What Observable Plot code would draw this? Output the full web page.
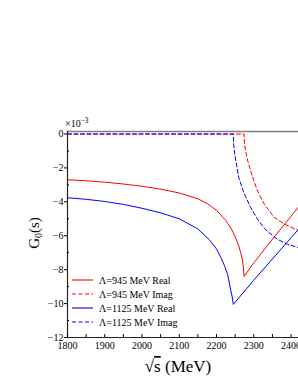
<!DOCTYPE html>
<html><head><meta charset="utf-8">
<script src="https://cdn.jsdelivr.net/npm/d3@7"></script>
<script src="https://cdn.jsdelivr.net/npm/@observablehq/plot@0.6"></script>
<style>body{margin:0;background:#fff}svg{display:block}</style>
</head><body><div id="chart"></div>
<script>
// Data (values in units of 1e-3)
const real945 = [[1800,-2.70],[1850,-2.76],[1900,-2.84],[1950,-2.95],[2000,-3.08],[2050,-3.25],[2100,-3.48],[2150,-3.82],[2175,-4.10],[2200,-4.50],[2225,-5.10],[2240,-5.60],[2250,-6.05],[2258,-6.50],[2265,-7.00],[2270,-7.50],[2272,-7.85],[2274,-8.40],[2300,-7.60],[2350,-6.20],[2400,-4.85],[2420,-4.30]];
const imag945 = [[1800,0],[2274,0],[2275,-0.5],[2278,-1.0],[2284,-1.6],[2292,-2.2],[2300,-2.75],[2309,-3.3],[2327,-4.1],[2354,-4.9],[2381,-5.3],[2400,-5.5],[2420,-5.7]];
const real1125 = [[1800,-3.76],[1850,-3.85],[1900,-3.98],[1950,-4.15],[2000,-4.38],[2050,-4.65],[2100,-5.00],[2150,-5.60],[2180,-6.22],[2200,-6.78],[2212,-7.30],[2222,-7.80],[2230,-8.30],[2238,-9.20],[2242,-9.60],[2245,-10.05],[2300,-8.62],[2350,-7.37],[2400,-6.12],[2420,-5.62]];
const imag1125 = [[1800,0],[2245,0],[2246,-0.6],[2249,-1.2],[2252,-1.6],[2260,-2.6],[2274,-3.5],[2292,-4.35],[2309,-5.0],[2332,-5.65],[2363,-6.2],[2390,-6.5],[2420,-6.7]];

const seriesNames = ["Λ=945 MeV Real","Λ=945 MeV Imag","Λ=1125 MeV Real","Λ=1125 MeV Imag"];
const seriesColors = ["#ff0000","#ff0000","#0000ff","#0000ff"];
const seriesDash = [null,"4,2.5",null,"4,2.5"];
const seriesData = [real945, imag945, real1125, imag1125];

const xTickValues = [1800,1900,2000,2100,2200,2300,2400];
const xMinorValues = [1800,1850,1900,1950,2000,2050,2100,2150,2200,2250,2300,2350,2400];
const yTickValues = [0,-2,-4,-6,-8,-10,-12];
const yMinorValues = [-1,-3,-5,-7,-9,-11];
const xDomain = [1800,2420];
const yDomain = [-12,0.1474];

const lineMarks = [1,3,0,2].map(i => Plot.line(seriesData[i], {
  x: d => d[0], y: d => d[1], stroke: seriesColors[i], strokeWidth: 1,
  strokeDasharray: seriesDash[i] || undefined
}));

const chart = Plot.plot({
  width: 298, height: 385,
  marginLeft: 67, marginRight: 0, marginTop: 131, marginBottom: 48,
  x: {domain: xDomain},
  y: {domain: yDomain},
  style: {fontFamily: "Liberation Serif", fontSize: "10px", color: "#000", background: "#fff"},
  marks: [
    ...lineMarks,
    Plot.frame({anchor: "top", stroke: "#808080", strokeWidth: 1.5}),
    Plot.frame({anchor: "left", stroke: "#222", strokeWidth: 1.2}),
    Plot.frame({anchor: "bottom", stroke: "#222", strokeWidth: 1.2}),
    Plot.axisY({ticks: yTickValues, tickSize: 3, tickPadding: 1, label: null, tickFormat: d => d === 0 ? "0" : "\u2212" + Math.abs(d)}),
    Plot.axisY({ticks: yMinorValues, tickSize: 2, dx: 2, label: null, tickFormat: () => ""}),
    Plot.axisX({ticks: xMinorValues, tickSize: 3, dy: -3, label: null, tickFormat: () => ""}),
    Plot.axisX({ticks: xTickValues, tickSize: 0, tickPadding: 4, label: null, tickFormat: d3.format("d")})
  ]
});
document.getElementById("chart").appendChild(chart);

const svg = d3.select(chart);
const serif = "Liberation Serif";
// exponent label
const ex = svg.append("text").attr("x", 65).attr("y", 127).attr("text-anchor", "start")
  .attr("font-family", serif).attr("font-size", 10).attr("fill", "#000");
ex.append("tspan").text("×10");
ex.append("tspan").attr("dy", -4).attr("font-size", 7.5).text("\u22123");
// y label
const yl = svg.append("text").attr("transform", "translate(39,233) rotate(-90)").attr("text-anchor", "middle")
  .attr("font-family", serif).attr("font-size", 15).attr("fill", "#000");
yl.append("tspan").text("G");
yl.append("tspan").attr("dy", 3).attr("font-size", 10).text("0");
yl.append("tspan").attr("dy", -3).text("(s)");
// x label
const xl = svg.append("text").attr("x", 178).attr("y", 372).attr("text-anchor", "middle")
  .attr("font-family", serif).attr("font-size", 17).attr("fill", "#000");
xl.append("tspan").text("√");
xl.append("tspan").attr("text-decoration", "overline").text("s");
xl.append("tspan").text(" (MeV)");
// legend
const legendRowsY = [280, 294, 308, 322];
const lg = svg.append("g");
seriesNames.forEach((name, i) => {
  const y = legendRowsY[i];
  const solid = !seriesDash[i];
  lg.append("line").attr("x1", 72).attr("x2", 93).attr("y1", y).attr("y2", y)
    .attr("stroke", seriesColors[i]).attr("stroke-width", solid ? 2 : 1)
    .attr("stroke-opacity", solid ? 0.55 : 1)
    .attr("stroke-dasharray", seriesDash[i] || null);
  lg.append("text").attr("x", 99).attr("y", y).attr("dy", "0.35em").attr("text-anchor", "start")
    .attr("font-family", serif).attr("font-size", 10).attr("fill", "#000").text(name);
});
</script>
</body></html>
